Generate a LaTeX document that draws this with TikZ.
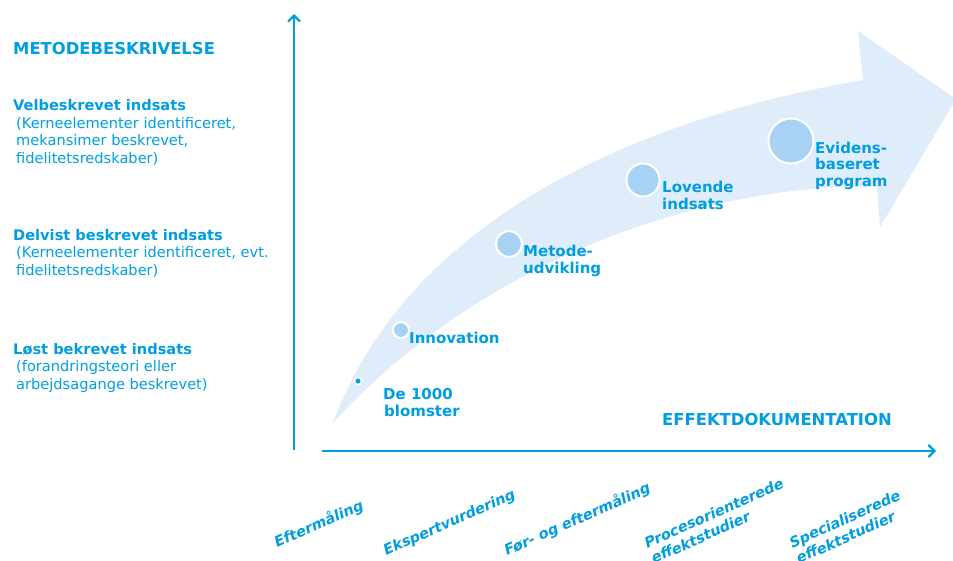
\documentclass[tikz,border=0pt]{standalone}
\usepackage{fontspec}
\setmainfont{DejaVu Sans}
\usetikzlibrary{arrows.meta}
\definecolor{tblue}{RGB}{0,158,224}
\definecolor{afill}{RGB}{223,237,250}
\definecolor{cfill}{RGB}{168,210,244}
\begin{document}
\begin{tikzpicture}[x=1pt,y=-1pt,
  axis/.style={draw=tblue,line width=2.6pt,-{Straight Barb[length=6pt,width=12pt,line width=2.2pt]}},
  title/.style={text=tblue,font=\fontsize{16.4}{19}\selectfont\bfseries,inner sep=0pt,anchor=base west},
  lefttxt/.style={text=tblue,font=\fontsize{14.6}{17.5}\selectfont,inner sep=0pt,anchor=base west,align=left},
  stage/.style={text=tblue,font=\fontsize{15}{16.5}\selectfont\bfseries,inner sep=0pt,anchor=base west,align=left},
  bot/.style={text=tblue,font=\fontsize{14.5}{17}\selectfont\bfseries\itshape,inner sep=0pt,anchor=base west,align=left,rotate=24},
  dot/.style={circle,fill=cfill,draw=white,line width=2pt,inner sep=0pt}
]
\useasboundingbox (0,0) rectangle (953,560);
% big curved arrow
\fill[afill] (333,423) .. controls (400,240) and (600,125) .. (863,80)
  -- (858,31) -- (956,99) -- (880,227) -- (877,187)
  .. controls (740,182) and (500,240) .. (333,423) -- cycle;
% axes
\coordinate (yb) at (294,450);
\coordinate (yt) at (294,14);
\coordinate (xl) at (322,451);
\coordinate (xr) at (936,451);
\draw[axis] (yb) -- (yt);
\draw[axis] (xl) -- (xr);
% titles
\node[title] (mb) at (13,54) {METODEBESKRIVELSE};
\node[title] (ed) at (662,425) {EFFEKTDOKUMENTATION};
% left descriptions (anchor = baseline of last line)
\node[lefttxt] (l1) at (13,163) {\textbf{Velbeskrevet indsats}\\\hspace*{3pt}(Kerneelementer identificeret,\\\hspace*{3pt}mekansimer beskrevet,\\\hspace*{3pt}fidelitetsredskaber)};
\node[lefttxt] (l2) at (13,275) {\textbf{Delvist beskrevet indsats}\\\hspace*{3pt}(Kerneelementer identificeret, evt.\\\hspace*{3pt}fidelitetsredskaber)};
\node[lefttxt] (l3) at (13,389) {\textbf{Løst bekrevet indsats}\\\hspace*{3pt}(forandringsteori eller\\\hspace*{3pt}arbejdsagange beskrevet)};
% stage dots
\node[circle,fill=tblue,draw=white,line width=1.5pt,minimum size=7pt,inner sep=0pt] (c1) at (358,381) {};
\node[dot,minimum size=16pt] (c2) at (401,330) {};
\node[dot,minimum size=26pt] (c3) at (509,244) {};
\node[dot,minimum size=33pt] (c4) at (643,180) {};
\node[dot,minimum size=45pt] (c5) at (791,141) {};
% stage labels
\node[stage] (s1) at (383,416) {De 1000\\\hspace*{1pt}blomster};
\node[stage] (s2) at (409,343) {Innovation};
\node[stage] (s3) at (523,273) {Metode-\\udvikling};
\node[stage] (s4) at (662,209) {Lovende\\indsats};
\node[stage] (s5) at (815,186) {Evidens-\\baseret\\program};
% bottom labels
\node[bot] (b1) at (277,548) {Eftermåling};
\node[bot] (b2) at (386,556) {Ekspertvurdering};
\node[bot] (b3) at (507,556) {Før- og eftermåling};
\node[bot] (b4) at (654,564) {Procesorienterede\\effektstudier};
\node[bot] (b5) at (799,564) {Specialiserede\\effektstudier};
\end{tikzpicture}
\end{document}
